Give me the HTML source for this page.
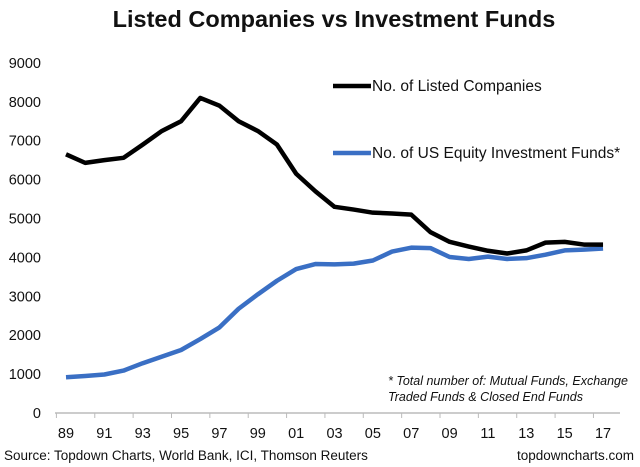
<!DOCTYPE html>
<html><head><meta charset="utf-8"><style>
body{margin:0;background:#fff;}
svg{display:block;font-family:"Liberation Sans",Arial,sans-serif;}
</style></head><body>
<svg width="640" height="467">
<text x="334" y="27" text-anchor="middle" font-size="23.5" font-weight="bold" fill="#111">Listed Companies vs Investment Funds</text>
<g id="yaxis"></g>
<g id="xaxis"></g>
<g id="series"></g>
<g>
<line x1="333" y1="86" x2="371" y2="86" stroke="#000" stroke-width="4.5"/>
<text x="372" y="91" font-size="15.5" fill="#111">No. of Listed Companies</text>
<line x1="333" y1="153" x2="371" y2="153" stroke="#3a6fc4" stroke-width="4.5"/>
<text x="372" y="158" font-size="15.5" fill="#111">No. of US Equity Investment Funds*</text>
</g>
<text x="388" y="385" font-size="12.5" font-style="italic" fill="#111">* Total number of: Mutual Funds, Exchange</text>
<text x="388" y="401" font-size="12.5" font-style="italic" fill="#111">Traded Funds &amp; Closed End Funds</text>
<text x="4" y="460" font-size="13.5" fill="#111">Source: Topdown Charts, World Bank, ICI, Thomson Reuters</text>
<text x="634" y="460" font-size="13.5" text-anchor="end" fill="#111">topdowncharts.com</text>
</svg>
<script>
const years=[89,90,91,92,93,94,95,96,97,98,99,0,1,2,3,4,5,6,7,8,9,10,11,12,13,14,15,16,17];
const listed=[6650,6430,6500,6560,6900,7250,7500,8100,7900,7500,7250,6900,6150,5700,5300,5230,5150,5130,5100,4650,4400,4280,4170,4100,4180,4380,4400,4330,4330];
const funds=[920,950,990,1090,1280,1450,1620,1900,2200,2680,3050,3400,3700,3830,3820,3840,3920,4150,4250,4240,4010,3960,4020,3960,3980,4070,4180,4200,4230];
const yTicks=[0,1000,2000,3000,4000,5000,6000,7000,8000,9000];
const NS="http://www.w3.org/2000/svg";
const x0=66,dx=19.18,yb=413,ppu=38.9/1000;
function xs(i){return x0+i*dx;}
function ys(v){return yb-v*ppu;}
function mk(t,a,p){const e=document.createElementNS(NS,t);for(const k in a)e.setAttribute(k,a[k]);p.appendChild(e);return e;}
const ya=document.getElementById('yaxis'),xa=document.getElementById('xaxis'),sg=document.getElementById('series');
yTicks.forEach(v=>{const t=mk('text',{x:41,y:ys(v)+5,'text-anchor':'end','font-size':'14.5',fill:'#111'},ya);t.textContent=v;

});
mk('line',{x1:55,y1:yb,x2:620,y2:yb,stroke:'#bbb','stroke-width':1.5},xa);
years.forEach((y,i)=>{if(i%2==0){mk('line',{x1:xs(i)-dx/2,y1:yb,x2:xs(i)-dx/2,y2:yb+5,stroke:'#bbb'},xa);
const t=mk('text',{x:xs(i),y:yb+25,'text-anchor':'middle','font-size':'14.5',fill:'#111'},xa);t.textContent=String(y).padStart(2,'0');

}});
function line(d,c,n){const p=mk('polyline',{points:d.map((v,i)=>xs(i)+','+ys(v)).join(' '),fill:'none',stroke:c,'stroke-width':4.5,'stroke-linejoin':'round'},sg);

}
line(funds,'#3a6fc4','funds-line');
line(listed,'#000','listed-companies-line');
</script>
</body></html>
